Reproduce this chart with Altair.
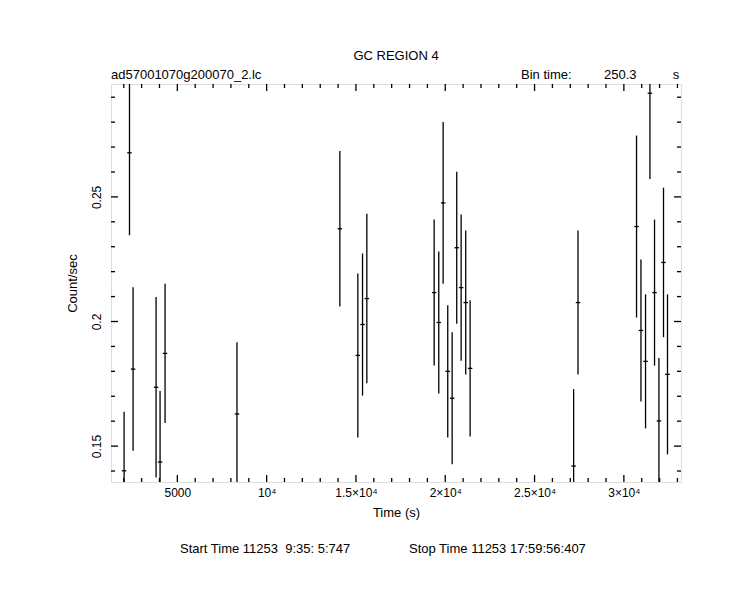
import altair as alt
import pandas as pd

# ---- data ----
times = [2019, 2321, 2523, 3809, 4033, 4313, 8339,
         14100, 15106, 15369, 15610,
         19379, 19637, 19882, 20140, 20386, 20643, 20889, 21146, 21392,
         27187, 27433,
         30710, 30957, 31214, 31460, 31717, 31963, 32220, 32443]
rates = [0.1401, 0.2677, 0.1809, 0.1736, 0.1436, 0.1872, 0.1629,
         0.2372, 0.1864, 0.1988, 0.2092,
         0.2116, 0.1996, 0.2476, 0.1800, 0.1692, 0.2296, 0.2136, 0.2076, 0.1812,
         0.1420, 0.2076,
         0.2381, 0.1964, 0.1840, 0.2916, 0.2116, 0.1601, 0.2237, 0.1788]
errors = [0.0237, 0.0331, 0.0328, 0.0362, 0.0285, 0.0279, 0.0288,
          0.0312, 0.0329, 0.0285, 0.0340,
          0.0293, 0.0285, 0.0325, 0.0265, 0.0265, 0.0305, 0.0293, 0.0289, 0.0273,
          0.0309, 0.0289,
          0.0365, 0.0285, 0.0269, 0.0344, 0.0293, 0.0253, 0.0300, 0.0321]
bin_time = 250.3

x_major = [5000, 10000, 15000, 20000, 25000, 30000]
x_minor = [v for v in range(2000, 34000, 1000) if v not in x_major]
y_major = [0.15, 0.20, 0.25]
y_minor = [round(0.14 + 0.01 * i, 2) for i in range(16) if round(0.14 + 0.01 * i, 2) not in y_major]

title_text = "GC REGION 4"
file_text = "ad57001070g200070_2.lc"
bin_label = "Bin time:"
bin_value = "250.3"
bin_unit = "s"
start_text = "Start Time 11253\u00a0\u00a09:35:\u00a05:747"
stop_text = "Stop Time 11253 17:59:56:407"

x_domain = [1286, 33199]
y_domain = [0.1356, 0.2953]

W, H = 570, 398
FONT = "Liberation Sans"
SW = 1.3

df = pd.DataFrame({"t": times, "rate": rates, "err": errors})
df["lo"] = df["rate"] - df["err"]
df["hi"] = df["rate"] + df["err"]
df["t0"] = df["t"] - bin_time / 2
df["t1"] = df["t"] + bin_time / 2

xs = alt.Scale(domain=x_domain, nice=False, zero=False)
ys = alt.Scale(domain=y_domain, nice=False, zero=False)

x_label_expr = ("datum.value == 5000 ? '5000' : datum.value == 10000 ? '10\u2074' : "
                "format(datum.value / 10000, '.1~f') + '\u00d710\u2074'")

base = alt.Chart(df)

vbars = base.mark_rule(color="black", strokeWidth=SW, clip=True).encode(
    x=alt.X("t:Q", scale=xs,
            axis=alt.Axis(values=x_major, labelExpr=x_label_expr, title="Time (s)",
                          ticks=False, domain=False, grid=False, labelPadding=5,
                          titlePadding=8, labelFontSize=12, titleFontSize=13,
                          labelFont=FONT, titleFont=FONT, titleFontWeight="normal",
                          labelColor="black", titleColor="black")),
    y=alt.Y("lo:Q", scale=ys,
            axis=alt.Axis(values=y_major, format=".2~f", title="Count/sec",
                          ticks=False, domain=False, grid=False, labelAngle=270,
                          labelPadding=8, titlePadding=11, labelFontSize=12,
                          titleFontSize=13, labelFont=FONT, titleFont=FONT,
                          titleFontWeight="normal", labelColor="black",
                          titleColor="black")),
    y2="hi:Q",
)
hbars = base.mark_rule(color="black", strokeWidth=SW, clip=True).encode(
    x=alt.X("t0:Q", scale=xs), x2="t1:Q", y=alt.Y("rate:Q", scale=ys)
)

def xticks(vals, length):
    d = pd.DataFrame({"v": vals})
    bottom = alt.Chart(d).mark_rule(color="black", strokeWidth=SW).encode(
        x=alt.X("v:Q", scale=xs), y=alt.value(H), y2=alt.value(H - length))
    top = alt.Chart(d).mark_rule(color="black", strokeWidth=SW).encode(
        x=alt.X("v:Q", scale=xs), y=alt.value(0), y2=alt.value(length))
    return [bottom, top]

def yticks(vals, length):
    d = pd.DataFrame({"v": vals})
    left = alt.Chart(d).mark_rule(color="black", strokeWidth=SW).encode(
        y=alt.Y("v:Q", scale=ys), x=alt.value(0), x2=alt.value(length))
    right = alt.Chart(d).mark_rule(color="black", strokeWidth=SW).encode(
        y=alt.Y("v:Q", scale=ys), x=alt.value(W), x2=alt.value(W - length))
    return [left, right]

tick_layers = xticks(x_major, 7) + xticks(x_minor, 4) + yticks(y_major, 7) + yticks(y_minor, 4)

def label(text, x, y, align="left", size=13):
    return alt.Chart(pd.DataFrame({"s": [text]})).mark_text(
        align=align, baseline="alphabetic", font=FONT, fontSize=size, color="black"
    ).encode(text="s:N", x=alt.value(x), y=alt.value(y))

texts = [
    label(title_text, 285, -24, "center"),
    label(file_text, 0, -5, "left"),
    label(bin_label, 410, -5, "left"),
    label(bin_value, 493, -5, "left"),
    label(bin_unit, 565, -5, "center"),
    label(start_text, 69, 469, "left"),
    label(stop_text, 298, 469, "left"),
]

chart = alt.layer(vbars, hbars, *tick_layers, *texts).properties(
    width=W, height=H,
    autosize=alt.AutoSizeParams(type="none"),
    padding={"left": 103, "top": 76, "right": 54, "bottom": 117},
).configure_view(stroke="black", strokeWidth=SW).configure(background="white")

chart.save("out.html", embed_options={"renderer": "svg", "actions": False})
